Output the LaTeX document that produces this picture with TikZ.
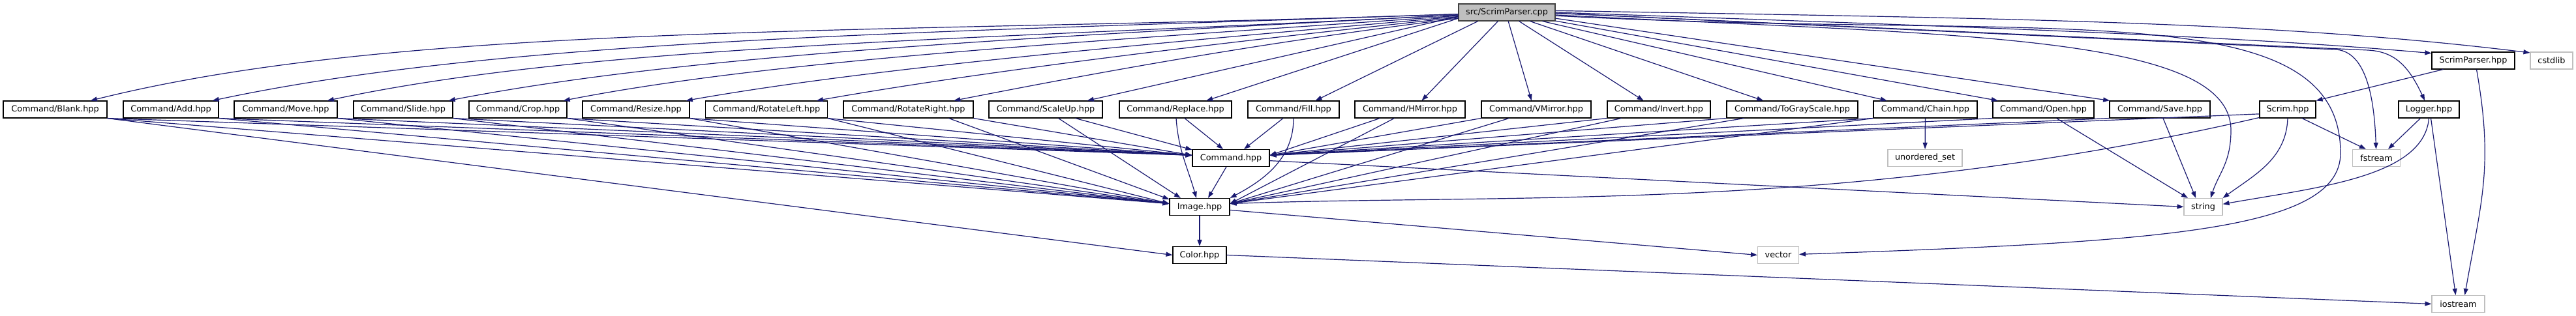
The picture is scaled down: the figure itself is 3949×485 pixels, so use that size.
\documentclass[tikz,border=0pt]{standalone}
\usepackage{fontspec}
\setmainfont{DejaVu Sans}
\usetikzlibrary{arrows.meta}
\definecolor{edgec}{HTML}{191970}
\definecolor{sysc}{HTML}{BFBFBF}
\definecolor{rootf}{HTML}{BFBFBF}
\definecolor{rootd}{HTML}{404040}
\begin{document}
\begin{tikzpicture}[x=0.1pt,y=0.1pt,
  file/.style={draw=black, line width=0.11pt, fill=white, minimum height=2.6pt, inner sep=0pt, text=black, font=\fontsize{1.28pt}{1.4pt}\selectfont},
  sys/.style={file, draw=sysc},
  root/.style={file, fill=rootf, draw=rootd},
  dep/.style={draw=edgec, line width=0.12pt, -{Triangle[length=1pt,width=0.7pt]}}]
\useasboundingbox (0,0) rectangle (3949,485);
% row 1-2
\node[root, minimum width=14.8pt] (cpp) at (2310,466) {src/ScrimParser.cpp};
\node[file, minimum width=12.7pt] (sph) at (3791.5,392) {ScrimParser.hpp};
\node[sys, minimum width=6.5pt] (cstdlib) at (3911.5,392) {cstdlib};
% row 3
\node[file, minimum width=15.9pt] (blank) at (84.5,317) {Command/Blank.hpp};
\node[file, minimum width=14.6pt] (add) at (262,317) {Command/Add.hpp};
\node[file, minimum width=15.8pt] (move) at (438,317) {Command/Move.hpp};
\node[file, minimum width=15.2pt] (slide) at (618,317) {Command/Slide.hpp};
\node[file, minimum width=15.0pt] (crop) at (794,317) {Command/Crop.hpp};
\node[file, minimum width=16.4pt] (resize) at (975,317) {Command/Resize.hpp};
\node[file, minimum width=18.7pt] (rotl) at (1175,317) {Command/RotateLeft.hpp};
\node[file, minimum width=19.9pt] (rotr) at (1392.5,317) {Command/RotateRight.hpp};
\node[file, minimum width=17.4pt] (scaleup) at (1603,317) {Command/ScaleUp.hpp};
\node[file, minimum width=17.2pt] (replace) at (1802,317) {Command/Replace.hpp};
\node[file, minimum width=14.0pt] (nfill) at (1983,317) {Command/Fill.hpp};
\node[file, minimum width=16.9pt] (hmirror) at (2161.5,317) {Command/HMirror.hpp};
\node[file, minimum width=16.8pt] (vmirror) at (2355,317) {Command/VMirror.hpp};
\node[file, minimum width=15.8pt] (invert) at (2543,317) {Command/Invert.hpp};
\node[file, minimum width=20.1pt] (ngray) at (2747.5,317) {Command/ToGrayScale.hpp};
\node[file, minimum width=15.9pt] (chain) at (2951.5,317) {Command/Chain.hpp};
\node[file, minimum width=15.5pt] (nopen) at (3132.5,317) {Command/Open.hpp};
\node[file, minimum width=15.4pt] (nsave) at (3311,317) {Command/Save.hpp};
\node[file, minimum width=8.6pt] (scrim) at (3507,317) {Scrim.hpp};
\node[file, minimum width=9.3pt] (logger) at (3723.5,317) {Logger.hpp};
% row 4
\node[file, minimum width=11.8pt] (cmd) at (1887,242.5) {Command.hpp};
\node[sys, minimum width=11.4pt] (uset) at (2951,242.5) {unordered\_set};
\node[sys, minimum width=7.3pt] (fstream) at (3643,242.5) {fstream};
% row 5
\node[file, minimum width=9.2pt] (img) at (1839,167.5) {Image.hpp};
\node[sys, minimum width=5.9pt] (nstring) at (3377.5,167.5) {string};
% row 6
\node[file, minimum width=8.2pt] (ncolor) at (1839,93.5) {Color.hpp};
\node[sys, minimum width=6.3pt] (nvector) at (2726,93.5) {vector};
% row 7
\node[sys, minimum width=8.1pt] (iostream) at (3768.5,18.5) {iostream};

% cpp -> commands (left, curved)
\draw[dep] (cpp) to[out=182,in=14,out distance=90pt,in distance=50pt] (blank);
\draw[dep] (cpp) to[out=182,in=12,out distance=82pt,in distance=46pt] (add);
\draw[dep] (cpp) to[out=183,in=12,out distance=75pt,in distance=42pt] (move);
\draw[dep] (cpp) to[out=183,in=11,out distance=67pt,in distance=37pt] (slide);
\draw[dep] (cpp) to[out=184,in=11,out distance=59pt,in distance=33pt] (crop);
\draw[dep] (cpp) to[out=185,in=10,out distance=51pt,in distance=28.5pt] (resize);
\draw[dep] (cpp) to[out=186,in=10,out distance=42.5pt,in distance=24pt] (rotl);
\draw[dep] (cpp) to[out=187,in=11,out distance=33.5pt,in distance=18.5pt] (rotr);
% cpp -> commands (straight)
\draw[dep] (cpp.185) -- (scaleup.12);
\draw[dep] (cpp.187) -- (replace.16);
\draw[dep] (cpp.197) -- (nfill.22);
\draw[dep] (cpp.225) -- (hmirror.37);
\draw[dep] (cpp.-81) -- (vmirror.118);
\draw[dep] (cpp.-36) -- (invert.150);
\draw[dep] (cpp.-21) -- (ngray.163);
\draw[dep] (cpp.-14) -- (chain.167);
\draw[dep] (cpp.-10) -- (nopen.169);
\draw[dep] (cpp.-7) -- (nsave.170);
% cpp -> right side
\draw[dep] (cpp.2) to[out=-1,in=173,out distance=70pt,in distance=40pt] (cstdlib.160);
\draw[dep] (cpp.0) to[out=-2,in=175,out distance=70pt,in distance=30pt] (sph.170);
\draw[dep] (cpp.-1) -- (3580,409) to[out=-3,in=92,out distance=4pt,in distance=10pt] (fstream);
\draw[dep] (cpp.-1) -- (3630,408) to[out=-3,in=115,out distance=4pt,in distance=6pt] (logger);
\draw[dep] (cpp.-3) to[out=-3,in=90,out distance=60pt,in distance=15pt] (3420,285) to[out=-90,in=72,out distance=5pt,in distance=4pt] (nstring.50);
\draw[dep] (cpp.-4) to[out=-3,in=90,out distance=75pt,in distance=25pt] (3588,250) to[out=-90,in=2,out distance=12pt,in distance=55pt] (nvector);

% left commands -> Command.hpp / Image.hpp
\foreach \s in {blank,add,move,slide,crop,resize,rotl}{
  \draw[dep] (\s.south east) -- (cmd.176);
  \draw[dep] (\s.south east) -- (img.174);
}
\draw[dep] (blank.south east) -- (ncolor.west);
\draw[dep] (rotr.south east) -- (cmd.176);
\draw[dep] ([xshift=-3.8pt]rotr.south east) -- (img.166);
\draw[dep] ([xshift=-4.2pt]scaleup.south east) -- (cmd.168);
\draw[dep] ([xshift=-6.8pt]scaleup.south east) -- (img.155);
\draw[dep] ([xshift=1.4pt]replace.south) -- ([xshift=-1.2pt]cmd.north);
\draw[dep] ([xshift=0.1pt]replace.south) to[out=-86,in=106] ([xshift=-0.5pt]img.north);
\draw[dep] ([xshift=-1.6pt]nfill.south) -- ([xshift=2pt]cmd.north);
\draw[dep] (nfill.south) to[out=-90,in=28] (img.north east);
% right commands -> Command.hpp / Image.hpp
\draw[dep] ([xshift=3.9pt]hmirror.south west) -- (cmd.4);
\draw[dep] ([xshift=6.1pt]hmirror.south west) -- (img.6);
\draw[dep] (vmirror.south west) -- (cmd.4);
\draw[dep] ([xshift=4.3pt]vmirror.south west) -- (img.6);
\draw[dep] (invert.south west) -- (cmd.4);
\draw[dep] ([xshift=2.2pt]invert.south west) -- (img.6);
\draw[dep] (ngray.south west) -- (cmd.4);
\draw[dep] ([xshift=2.7pt]ngray.south west) -- (img.6);
\draw[dep] (chain.south west) -- (cmd.4);
\draw[dep] (chain.south west) -- (img.6);
\draw[dep] (chain) -- (uset);
\draw[dep] (nopen.south west) -- (cmd.4);
\draw[dep] (nsave.south west) -- (cmd.4);
\draw[dep] ([xshift=2pt]nopen.south) -- (nstring.150);
\draw[dep] ([xshift=0.5pt]nsave.south) -- (nstring.130);
% Scrim.hpp
\draw[dep] (scrim.189) -- (cmd.4);
\draw[dep] (scrim.196) to[out=193,in=2,out distance=65pt,in distance=45pt] (img.6);
\draw[dep] (scrim.south) to[out=-92,in=36] (nstring.north east);
\draw[dep] ([xshift=2.2pt]scrim.south) -- (fstream.140);
% Logger.hpp
\draw[dep] ([xshift=-1.3pt]logger.south) -- (fstream.37);
\draw[dep] (logger.south) to[out=-95,in=10,out distance=9pt,in distance=15pt] (nstring.8);
\draw[dep] ([xshift=0.3pt]logger.south) -- ([xshift=-0.4pt]iostream.north);
% ScrimParser.hpp
\draw[dep] ([xshift=-4.6pt]sph.south) -- (scrim.north east);
\draw[dep] ([xshift=0.5pt]sph.south) to[out=-80,in=80,out distance=15pt,in distance=15pt] ([xshift=1pt]iostream.north);
% Command.hpp, Image.hpp, Color.hpp
\draw[dep] ([xshift=-0.7pt]cmd.south) -- ([xshift=1.3pt]img.north);
\draw[dep] (cmd.-4) -- (nstring.west);
\draw[dep] (img) -- (ncolor);
\draw[dep] (img.-6) -- (nvector.west);
\draw[dep] (ncolor.east) -- (iostream.west);
\end{tikzpicture}
\end{document}
